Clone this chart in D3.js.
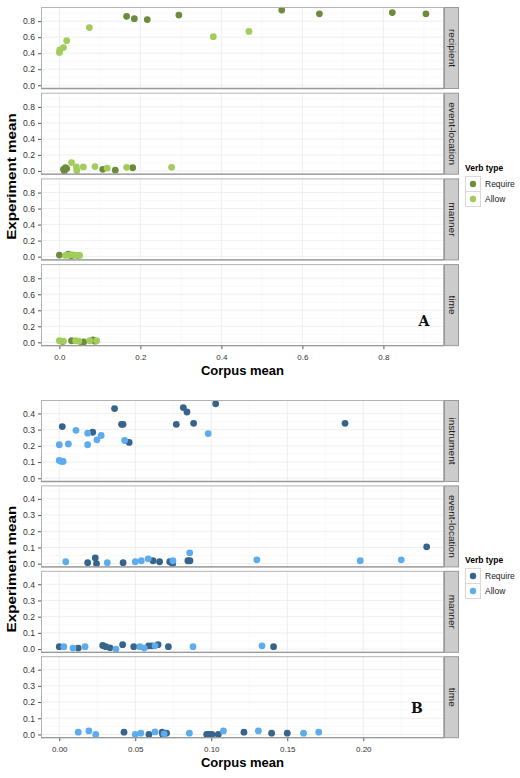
<!DOCTYPE html>
<html><head><meta charset="utf-8">
<script src="https://cdn.jsdelivr.net/npm/d3@7"></script>
<style>body{margin:0;background:#fff}svg{display:block;font-family:"Liberation Sans",Arial,sans-serif}</style>
</head><body><svg id="c" width="520" height="778"></svg>
<script>
// ---------- DATA ----------
const facets = ["recipient", "event-location", "manner", "time"];
const facetsB = ["instrument", "event-location", "manner", "time"];
const verbTypes = ["Require", "Allow"];
const xTicksA = [0, 0.2, 0.4, 0.6, 0.8];
const yTicksA = [0, 0.2, 0.4, 0.6, 0.8];
const xTicksB = [0, 0.05, 0.10, 0.15, 0.20];
const yTicksB = [0, 0.1, 0.2, 0.3, 0.4];

// Panel A  [corpus mean, experiment mean]
const A_recipient_require = [[0.166,0.86],[0.185,0.83],[0.217,0.82],[0.295,0.876],[0.549,0.938],[0.642,0.892],[0.822,0.908],[0.905,0.892]];
const A_recipient_allow = [[0.0,0.41],[0.001,0.44],[0.01,0.47],[0.018,0.556],[0.074,0.72],[0.38,0.606],[0.468,0.672]];
const A_event_require = [[0.010,0.02],[0.015,0.04],[0.012,0.0],[0.018,0.03],[0.107,0.02],[0.138,0.01],[0.181,0.04]];
const A_event_allow = [[0.03,0.104],[0.042,0.05],[0.043,0.005],[0.059,0.05],[0.088,0.055],[0.118,0.035],[0.166,0.045],[0.277,0.045]];
const A_manner_require = [[0.0,0.02],[0.022,0.03],[0.028,0.01],[0.035,0.02],[0.045,0.015]];
const A_manner_allow = [[0.015,0.015],[0.03,0.025],[0.042,0.02],[0.05,0.015],[0.025,0.02]];
const A_time_require = [[0.008,0.01],[0.03,0.02],[0.055,0.0],[0.06,0.005],[0.083,0.03],[0.088,0.015]];
const A_time_allow = [[0.0,0.02],[0.01,0.015],[0.04,0.02],[0.048,0.015],[0.075,0.02],[0.092,0.02]];

// Panel B
const B_instrument_require = [[0.002,0.319],[0.022,0.284],[0.0364,0.43],[0.041,0.333],[0.042,0.333],[0.046,0.221],[0.077,0.333],[0.0816,0.436],[0.084,0.409],[0.0884,0.339],[0.1029,0.46],[0.188,0.339]];
const B_instrument_allow = [[0.0,0.207],[0.0,0.11],[0.0015,0.104],[0.0026,0.104],[0.006,0.212],[0.011,0.296],[0.0187,0.278],[0.0187,0.207],[0.0248,0.237],[0.0276,0.264],[0.043,0.233],[0.098,0.276]];
const B_event_require = [[0.0187,0.006],[0.0237,0.035],[0.0245,0.0],[0.042,0.006],[0.0617,0.018],[0.066,0.012],[0.0727,0.012],[0.0746,0.0],[0.0846,0.018],[0.086,0.018],[0.2417,0.104]];
const B_event_allow = [[0.0043,0.012],[0.0316,0.006],[0.05,0.012],[0.054,0.018],[0.0585,0.03],[0.0748,0.018],[0.0858,0.067],[0.130,0.024],[0.198,0.018],[0.225,0.024]];
const B_manner_require = [[0.0,0.015],[0.0125,0.006],[0.0286,0.022],[0.0306,0.015],[0.0334,0.008],[0.0417,0.027],[0.049,0.015],[0.0588,0.02],[0.061,0.02],[0.065,0.027],[0.0718,0.015],[0.141,0.015]];
const B_manner_allow = [[0.003,0.015],[0.009,0.006],[0.017,0.015],[0.0373,0.0],[0.053,0.015],[0.0559,0.006],[0.063,0.02],[0.088,0.015],[0.1334,0.02]];
const B_time_require = [[0.0426,0.014],[0.059,0.0],[0.0677,0.014],[0.068,0.002],[0.0706,0.008],[0.097,0.0],[0.0986,0.0],[0.1004,0.0],[0.1046,0.0],[0.1215,0.014],[0.1397,0.008],[0.150,0.008]];
const B_time_allow = [[0.0125,0.014],[0.0195,0.022],[0.024,0.0],[0.05,0.0],[0.0537,0.008],[0.063,0.016],[0.069,0.004],[0.0856,0.008],[0.108,0.022],[0.131,0.022],[0.1607,0.008],[0.1707,0.014]];

const colorsA = ["#6E8B3D", "#A2CD5A"];
const colorsB = ["#36648B", "#5CACEE"];

// ---------- DRAW ----------
const svg = d3.select("#c");
const L = 41, R = 444, PH = 82, stripW = 14;

function chart(cfg) {
  const g = svg.append("g");
  const x = d3.scaleLinear().domain(cfg.xDomain).range([L, R]);
  cfg.facets.forEach((f, i) => {
    const top = cfg.top0 + i * cfg.step;
    const y = d3.scaleLinear().domain(cfg.yDomain).range([top + PH, top]);
    const p = g.append("g");
    p.append("rect").attr("x", L).attr("y", top).attr("width", R - L).attr("height", PH).attr("fill", "#fff");
    const xMinor = cfg.xTicks.map(t => t + cfg.xStep / 2).filter(t => t < cfg.xDomain[1]);
    const yMinor = cfg.yTicks.map(t => t + cfg.yStep / 2).filter(t => t < cfg.yDomain[1]);
    p.selectAll(".xm").data(xMinor).join("line").attr("x1", d => x(d)).attr("x2", d => x(d))
      .attr("y1", top).attr("y2", top + PH).attr("stroke", "#f5f5f5").attr("stroke-width", 0.6);
    p.selectAll(".ym").data(yMinor).join("line").attr("y1", d => y(d)).attr("y2", d => y(d))
      .attr("x1", L).attr("x2", R).attr("stroke", "#f5f5f5").attr("stroke-width", 0.6);
    p.selectAll(".xg").data(cfg.xTicks).join("line").attr("x1", d => x(d)).attr("x2", d => x(d))
      .attr("y1", top).attr("y2", top + PH).attr("stroke", "#ebebeb").attr("stroke-width", 0.8);
    p.selectAll(".yg").data(cfg.yTicks).join("line").attr("y1", d => y(d)).attr("y2", d => y(d))
      .attr("x1", L).attr("x2", R).attr("stroke", "#ebebeb").attr("stroke-width", 0.8);
    cfg.data[i].forEach((ser, k) => {
      p.selectAll(null).data(ser).join("circle")
        .attr("cx", d => x(d[0])).attr("cy", d => y(d[1])).attr("r", 3.4)
        .attr("fill", cfg.colors[k]);
    });
    p.append("rect").attr("x", L + 0.5).attr("y", top + 0.5).attr("width", R - L - 1).attr("height", PH - 1)
      .attr("fill", "none").attr("stroke", "#b3b3b3").attr("stroke-width", 1);
    p.append("line").attr("x1", L).attr("x2", R).attr("y1", top + PH - 0.5).attr("y2", top + PH - 0.5)
      .attr("stroke", "#999").attr("stroke-width", 1.3);
    p.append("rect").attr("x", R + 0.5).attr("y", top + 0.5).attr("width", stripW).attr("height", PH - 1)
      .attr("fill", "#cccccc").attr("stroke", "#999").attr("stroke-width", 1);
    p.append("text").attr("transform", `translate(${R + 4.6},${top + PH / 2}) rotate(90) scale(1.15,1)`)
      .attr("text-anchor", "middle").attr("font-size", 8.8).attr("fill", "#1a1a1a").text(f);
    const ya = d3.axisLeft(y).tickValues(cfg.yTicks).tickSize(3).tickPadding(3)
      .tickFormat(d3.format(cfg.yFmt));
    const yg = p.append("g").attr("transform", `translate(${L},0)`).call(ya);
    yg.select(".domain").remove();
    yg.selectAll("line").attr("stroke", "#555");
    yg.selectAll("text").attr("font-size", 8.6).attr("fill", "#333").attr("font-family", "Liberation Sans, Arial, sans-serif");
    if (i === cfg.facets.length - 1) {
      const xa = d3.axisBottom(x).tickValues(cfg.xTicks).tickSize(3).tickPadding(5)
        .tickFormat(d3.format(cfg.xFmt));
      const xg = p.append("g").attr("transform", `translate(0,${top + PH})`).call(xa);
      xg.select(".domain").remove();
      xg.selectAll("line").attr("stroke", "#555");
      xg.selectAll("text").attr("font-size", 8).attr("fill", "#333").attr("font-family", "Liberation Sans, Arial, sans-serif");
      p.append("text").attr("x", cfg.letterX).attr("y", top + cfg.letterDy).attr("text-anchor", "middle")
        .attr("font-family", "DejaVu Serif, serif").attr("font-weight", "bold").attr("font-size", 14)
        .attr("fill", "#111").text(cfg.letter);
    }
  });
  const bottom = cfg.top0 + (cfg.facets.length - 1) * cfg.step + PH;
  g.append("text").attr("x", (L + R) / 2).attr("y", bottom + 29).attr("text-anchor", "middle")
    .attr("font-size", 13).attr("font-weight", "bold").attr("fill", "#000").text("Corpus mean");
  g.append("text").attr("transform", `translate(15.5,${(cfg.top0 + bottom) / 2}) rotate(-90) scale(1.17,1)`)
    .attr("text-anchor", "middle").attr("font-size", 13).attr("font-weight", "bold").attr("fill", "#000")
    .text("Experiment mean");
  const lg = g.append("g");
  lg.append("text").attr("x", 465).attr("y", cfg.legY).attr("font-size", 8.5).attr("font-weight", "bold")
    .attr("fill", "#000").text("Verb type");
  verbTypes.forEach((v, k) => {
    const ky = cfg.legY + 5 + k * 15;
    lg.append("rect").attr("x", 465.5).attr("y", ky + 0.5).attr("width", 15).attr("height", 15)
      .attr("fill", "#fff").attr("stroke", "#d9d9d9");
    lg.append("circle").attr("cx", 473).attr("cy", ky + 8).attr("r", 3.2).attr("fill", cfg.colors[k]);
    lg.append("text").attr("x", 485).attr("y", ky + 11).attr("font-size", 8.5).attr("fill", "#1a1a1a").text(v);
  });
}

chart({
  facets: facets, top0: 7, step: 85.7,
  xDomain: [-0.0454, 0.9496], yDomain: [-0.047, 0.977],
  xTicks: xTicksA, yTicks: yTicksA, xStep: 0.2, yStep: 0.2, xFmt: ".1f", yFmt: ".1f",
  colors: colorsA, letter: "A", letterX: 424, letterDy: 62, legY: 171,
  data: [[A_recipient_require, A_recipient_allow], [A_event_require, A_event_allow],
         [A_manner_require, A_manner_allow], [A_time_require, A_time_allow]]
});
chart({
  facets: facetsB, top0: 400, step: 85.4,
  xDomain: [-0.012, 0.2531], yDomain: [-0.023, 0.483],
  xTicks: xTicksB, yTicks: yTicksB, xStep: 0.05, yStep: 0.1, xFmt: ".2f", yFmt: ".1f",
  colors: colorsB, letter: "B", letterX: 417, letterDy: 57, legY: 563,
  data: [[B_instrument_require, B_instrument_allow], [B_event_require, B_event_allow],
         [B_manner_require, B_manner_allow], [B_time_require, B_time_allow]]
});
</script></body></html>
